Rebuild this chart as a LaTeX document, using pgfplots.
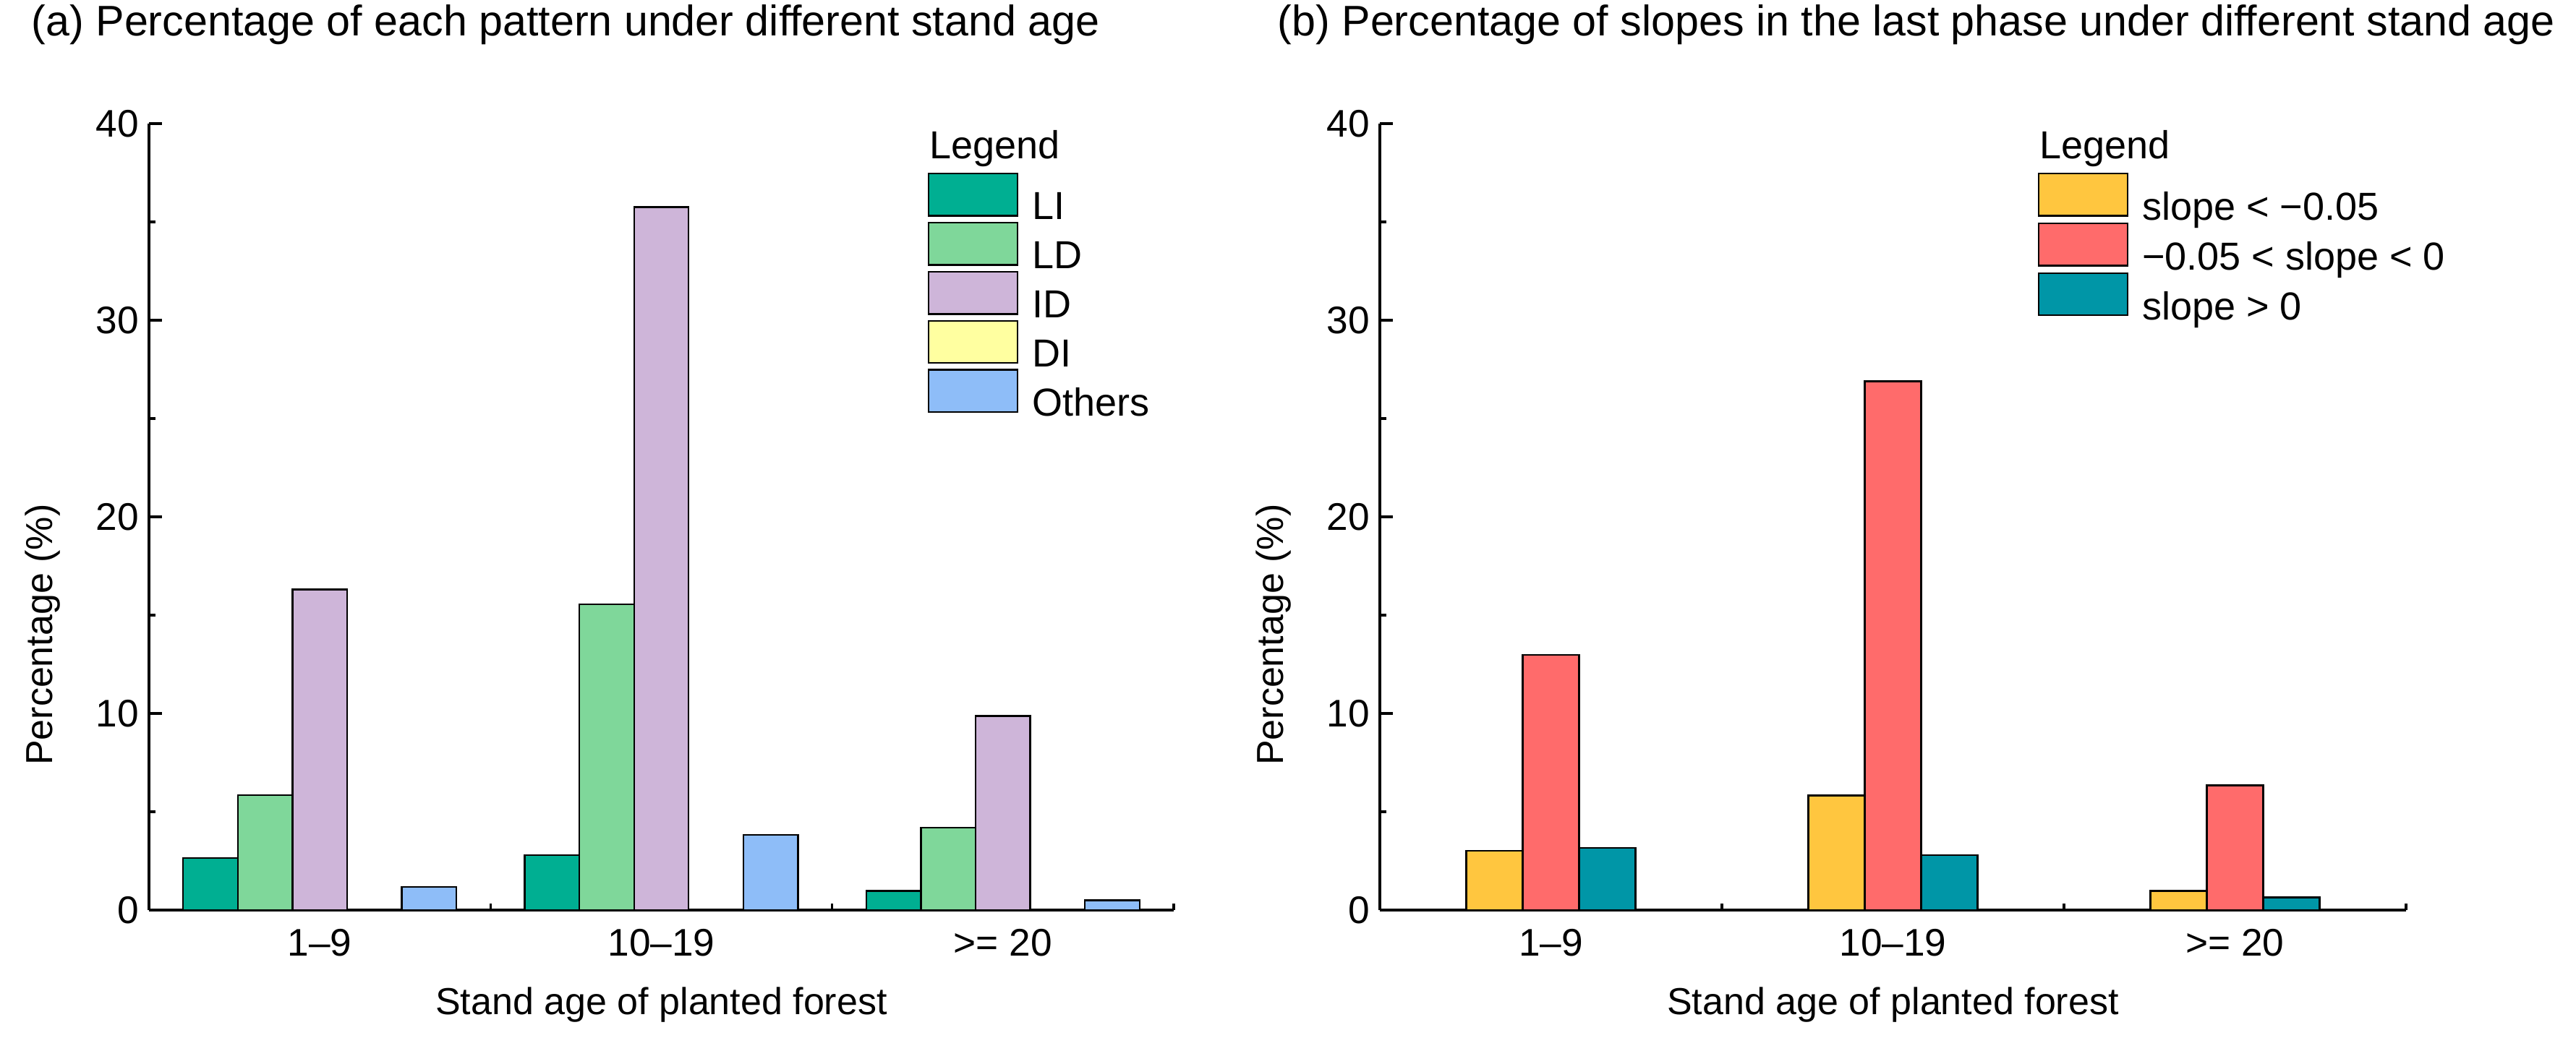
\documentclass[border=0pt]{standalone}
\usepackage{fontspec}
\setmainfont{Liberation Sans}
\usepackage{pgfplots}
\pgfplotsset{compat=1.18}

\definecolor{cLI}{HTML}{00AF92}
\definecolor{cLD}{HTML}{7FD79A}
\definecolor{cID}{HTML}{CEB5D9}
\definecolor{cDI}{HTML}{FFFFA0}
\definecolor{cOT}{HTML}{8EBDF8}
\definecolor{cYe}{HTML}{FFC63F}
\definecolor{cRe}{HTML}{FF6B6B}
\definecolor{cTe}{HTML}{0096A7}

\pgfplotsset{
  panel/.style={
    scale only axis, height=272pt,
    xmin=-0.5, xmax=2.5, ymin=0, ymax=40,
    ybar,
    axis x line*=bottom, axis y line*=left,
    xtick pos=bottom, ytick pos=left,
    tick align=inside,
    axis line style={-, line width=1.15pt},
    every tick/.style={black, line width=0.8pt},
    major tick length=4.5pt, minor tick length=2.2pt,
    xtick={0,1,2}, xticklabels={1–9,10–19,>= 20},
    minor xtick={-0.5,0.5,1.5,2.5},
    ytick={0,10,20,30,40}, minor ytick={5,15,25,35},
    /pgf/number format/assume math mode=true,
    tick label style={font=\fontsize{13.3}{16}\selectfont},
    xticklabel style={yshift=-3pt},
    xlabel={Stand age of planted forest},
    ylabel={Percentage (\%)},
    label style={font=\fontsize{13}{16}\selectfont},
    xlabel style={at={(axis description cs:0.5,0)}, anchor=north, inner sep=0pt, yshift=-26.6pt},
    ylabel style={at={(axis description cs:-0.0861,0.35)}, anchor=south, inner sep=0pt},
    title style={anchor=base west, inner sep=0pt, font=\fontsize{14.8}{18}\selectfont},
    legend cell align=left,
    legend style={anchor=north west, draw=none, fill=none, inner sep=0pt,
      row sep=-1.8pt, column sep=4.75pt, font=\fontsize{13.5}{16}\selectfont,
      nodes={inner sep=0pt, text depth=2.65pt}},
    legend image code/.code={\draw[##1, line width=0.6pt] (0pt,-2.1pt) rectangle (30.75pt,12.5pt);},
  },
}

\begin{document}
\begin{tikzpicture}
\useasboundingbox (0,0) rectangle (890.5pt,358.75pt);

% (a) patterns
\begin{axis}[
	panel,
	at={(51.5pt,44pt)}, anchor=south west,
	width=354.25pt,
	bar width=0.16,
	title={(a) Percentage of each pattern under different stand age},
	title style={at={(axis description cs:-0.115,1.0892)}},
	legend style={at={(axis description cs:0.7594,0.9917)}},
]
\addlegendimage{empty legend}
\addlegendentry{\hspace*{-35.5pt}\raisebox{3.9pt}{Legend}}
\addplot[fill=cLI, draw=black, line width=0.6pt, bar shift=-0.32] coordinates {(0,2.65) (1,2.8) (2,0.97)};
\addlegendentry{LI}
\addplot[fill=cLD, draw=black, line width=0.6pt, bar shift=-0.16] coordinates {(0,5.84) (1,15.55) (2,4.2)};
\addlegendentry{LD}
\addplot[fill=cID, draw=black, line width=0.6pt, bar shift=0] coordinates {(0,16.3) (1,35.75) (2,9.87)};
\addlegendentry{ID}
\addplot[fill=cDI, draw=black, line width=0.6pt, bar shift=0.16] coordinates {(0,0) (1,0) (2,0)};
\addlegendentry{DI}
\addplot[fill=cOT, draw=black, line width=0.6pt, bar shift=0.32] coordinates {(0,1.18) (1,3.82) (2,0.5)};
\addlegendentry{Others}
\end{axis}

% (b) slopes
\begin{axis}[
	panel,
	at={(477pt,44pt)}, anchor=south west,
	width=354.75pt,
	bar width=0.165,
	title={(b) Percentage of slopes in the last phase under different stand age},
	title style={at={(axis description cs:-0.1001,1.0892)}},
	legend style={at={(axis description cs:0.6406,0.9917)}},
]
\addlegendimage{empty legend}
\addlegendentry{\hspace*{-35.5pt}\raisebox{3.9pt}{Legend}}
\addplot[fill=cYe, draw=black, line width=0.6pt, bar shift=-0.165] coordinates {(0,3.02) (1,5.82) (2,0.97)};
\addlegendentry{slope < −0.05}
\addplot[fill=cRe, draw=black, line width=0.6pt, bar shift=0] coordinates {(0,12.98) (1,26.9) (2,6.34)};
\addlegendentry{−0.05 < slope < 0}
\addplot[fill=cTe, draw=black, line width=0.6pt, bar shift=0.165] coordinates {(0,3.17) (1,2.79) (2,0.65)};
\addlegendentry{slope > 0}
\end{axis}
\end{tikzpicture}
\end{document}
